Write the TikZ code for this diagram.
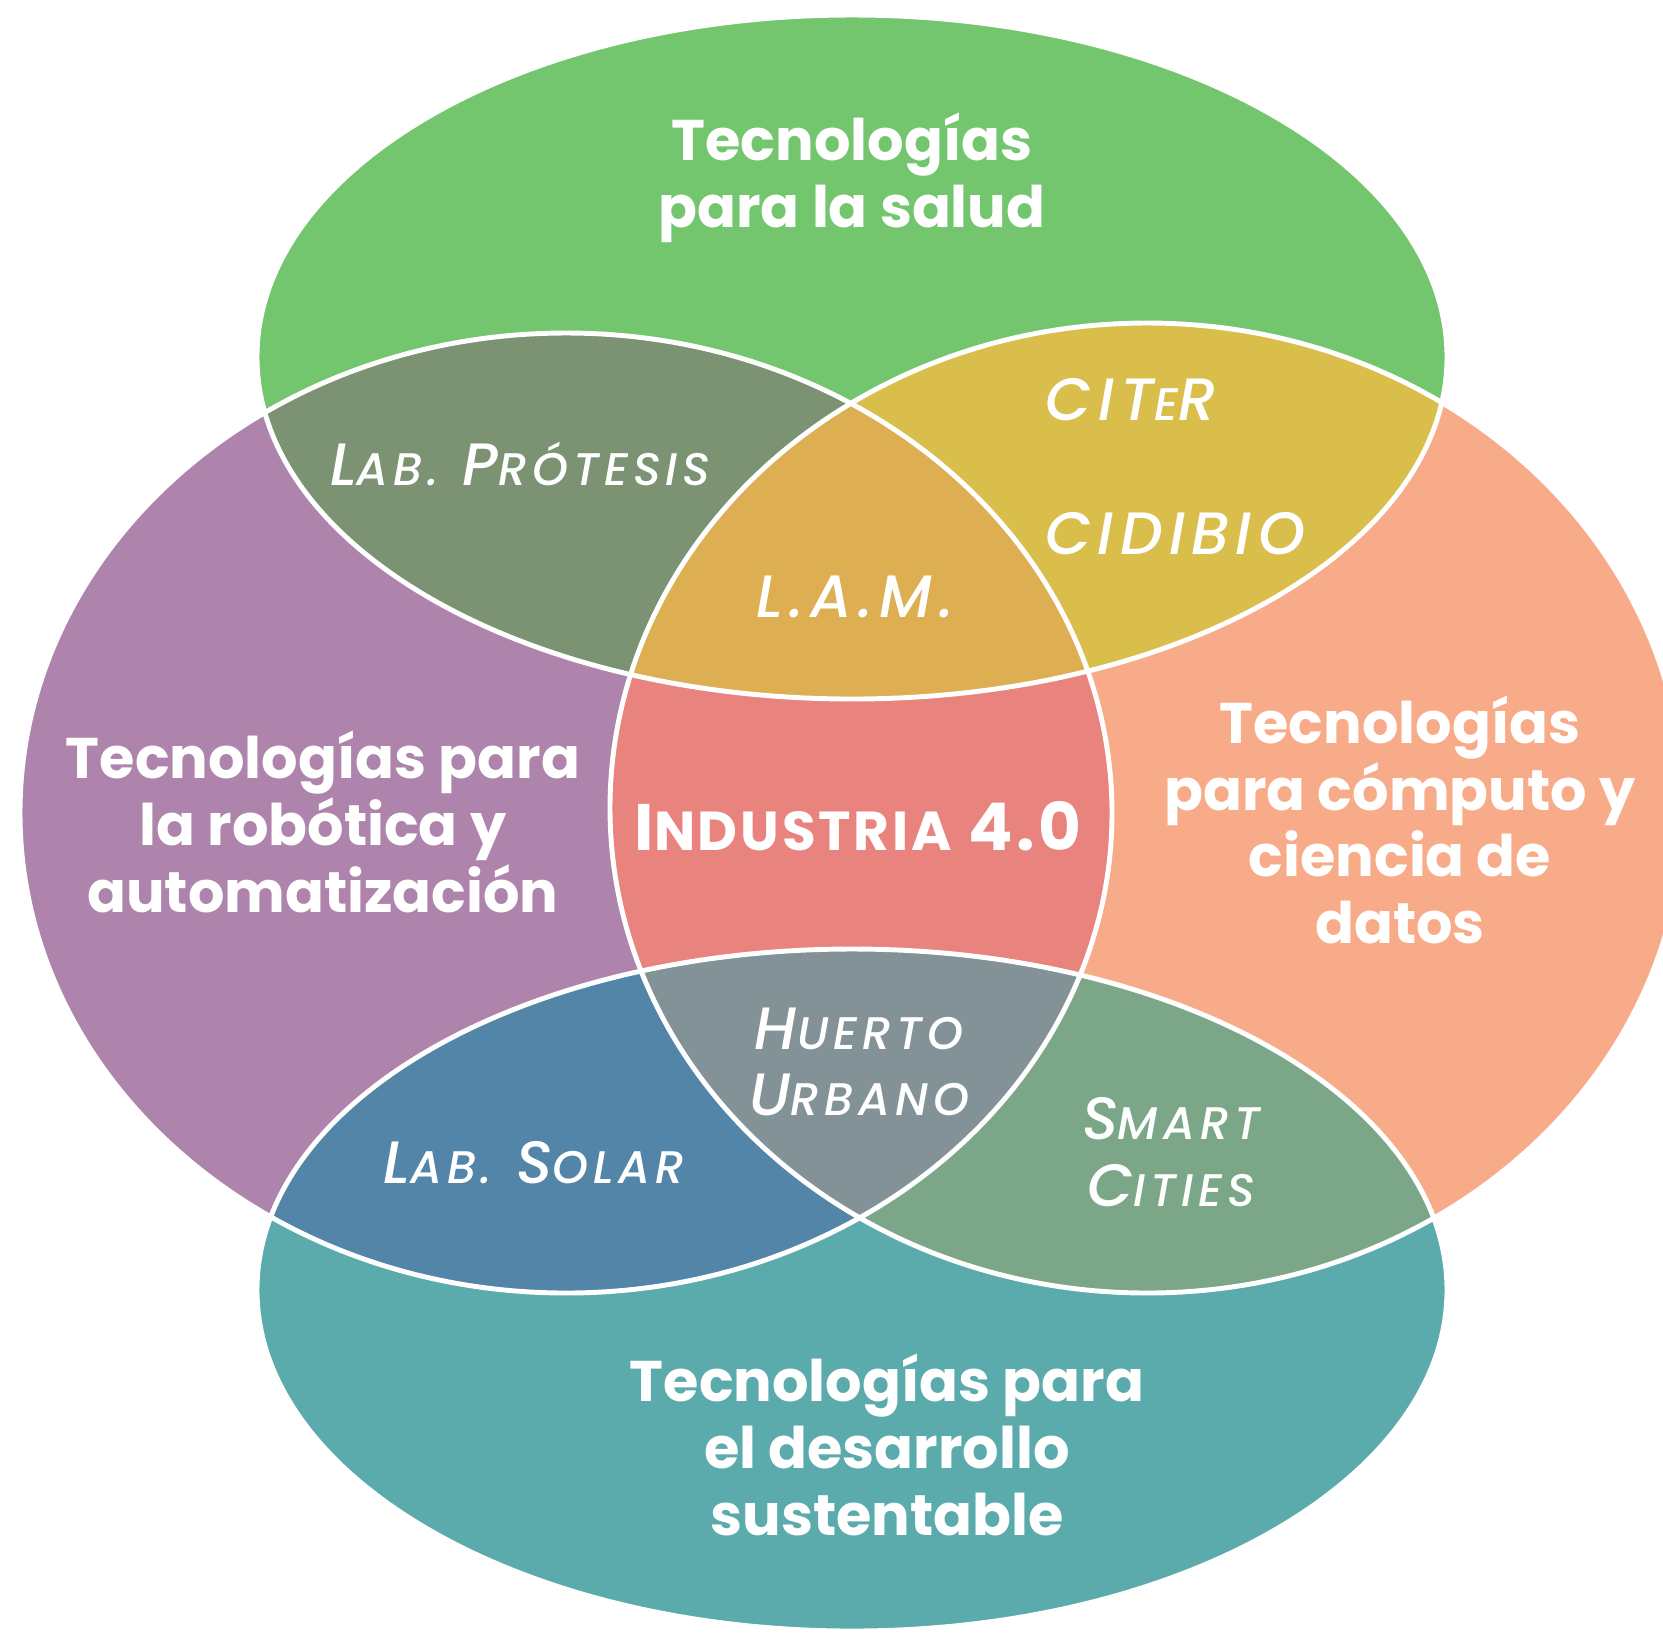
\documentclass[tikz,border=0pt]{standalone}
\usepackage{fontspec}
\setmainfont{Poppins}
\newfontfamily\labfont{Poppins}[ItalicFont={Poppins Medium Italic}, LetterSpace=11]
\definecolor{salud}{HTML}{73C56E}
\definecolor{robotica}{HTML}{AE84AC}
\definecolor{computo}{HTML}{F8AB89}
\definecolor{sustentable}{HTML}{5CABAC}
\definecolor{protesis}{HTML}{7B9372}
\definecolor{citer}{HTML}{DABE4B}
\definecolor{lam}{HTML}{DDAE52}
\definecolor{industria}{HTML}{E8837E}
\definecolor{solar}{HTML}{5285A8}
\definecolor{huerto}{HTML}{839296}
\definecolor{smart}{HTML}{7BA788}
\tikzstyle{topic} = [text=white, font=\fontsize{16.3}{19}\selectfont\bfseries, align=center]
\tikzstyle{lab} = [text=white, font=\fontsize{17}{19}\selectfont\labfont\itshape, align=center]
\tikzstyle{outline} = [draw=white, line width=1.4pt]
\newcommand{\low}[1]{{\fontsize{13}{19}\selectfont #1}}
\newcommand{\pathSalud}{(852,357) ellipse [x radius=595, y radius=342]}
\newcommand{\pathRobot}{(566,813) ellipse [x radius=546, y radius=480]}
\newcommand{\pathComputo}{(1147,808) ellipse [x radius=537, y radius=485]}
\newcommand{\pathSusten}{(852,1290) ellipse [x radius=595, y radius=341]}
\begin{document}
\begin{tikzpicture}[x=0.01cm, y=-0.01cm]
	\useasboundingbox (0,0) rectangle (1663,1632);
	\clip (0,0) rectangle (1663,1632);
	\fill [salud] \pathSalud;
	\fill [robotica] \pathRobot;
	\fill [computo] \pathComputo;
	\fill [sustentable] \pathSusten;
	\begin{scope}
		\clip \pathRobot;
		\fill [industria] \pathComputo;
		\fill [solar] \pathSusten;
		\fill [protesis] \pathSalud;
	\end{scope}
	\begin{scope}
		\clip \pathComputo;
		\fill [citer] \pathSalud;
		\fill [smart] \pathSusten;
	\end{scope}
	\begin{scope}
		\clip \pathRobot;
		\clip \pathComputo;
		\fill [lam] \pathSalud;
		\fill [huerto] \pathSusten;
	\end{scope}
	\draw [outline] \pathSalud;
	\draw [outline] \pathRobot;
	\draw [outline] \pathComputo;
	\draw [outline] \pathSusten;
	\node (salud) [topic] at (852,178) {Tecnologías\\para la salud};
	\node (robotica) [topic] at (323,822) {Tecnologías para\\la robótica y\\automatización};
	\node (computo) [topic] at (1400,820) {Tecnologías\\para cómputo y\\ciencia de\\datos};
	\node (sustentable) [topic] at (887,1445) {Tecnologías para\\el desarrollo\\sustentable};
	\node (industria) [text=white, font=\fontsize{18.7}{22}\selectfont\bfseries\addfontfeatures{LetterSpace=5}] at (858,826) {I{\fontsize{15.6}{22}\selectfont NDUSTRIA} 4.0};
	\node (protesis) [lab] at (520,464) {L\low{AB.} P\low{RÓTESIS}};
	\node (citer) [lab] at (1131,400) {CIT\low{E}R};
	\node (cidibio) [lab] at (1175,534) {CIDIBIO};
	\node (lam) [lab] at (855,597) {L.A.M.};
	\node (huerto) [lab] at (859,1062) {H\low{UERTO}\\U\low{RBANO}};
	\node (smart) [lab] at (1171,1152) {S\low{MART}\\C\low{ITIES}};
	\node (solar) [lab] at (534,1163) {L\low{AB.} S\low{OLAR}};
\end{tikzpicture}
\end{document}
